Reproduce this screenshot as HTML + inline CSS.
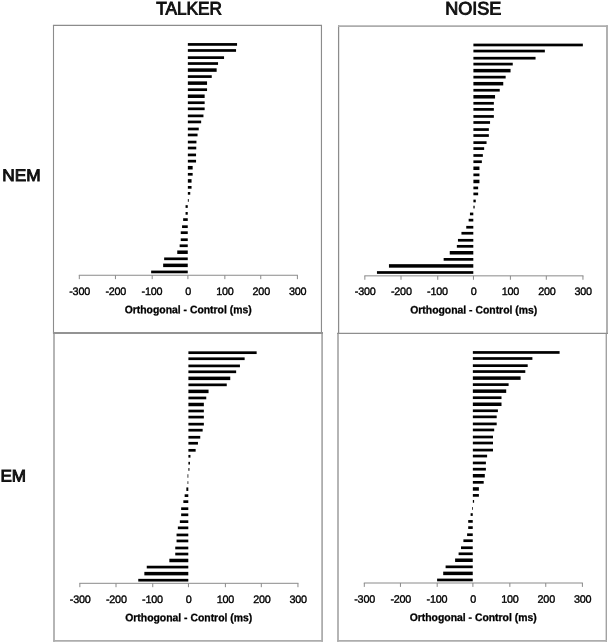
<!DOCTYPE html>
<html><head><meta charset="utf-8"><title>Figure</title>
<style>
html,body{margin:0;padding:0;background:#fff;}
svg{display:block;font-family:"Liberation Sans",sans-serif;}
.tk{font-size:10.8px;fill:#000;stroke:#000;stroke-width:0.35px;text-anchor:middle;letter-spacing:-0.22px;}
.ax{font-size:10.9px;font-weight:bold;fill:#000;stroke:#000;stroke-width:0.3px;text-anchor:middle;}
.hd{font-size:18.1px;fill:#111;stroke:#111;stroke-width:0.95px;text-anchor:middle;}
.rw{font-size:16.7px;fill:#111;stroke:#111;stroke-width:0.95px;}
</style></head><body>
<svg width="609" height="643" viewBox="0 0 609 643">
<rect width="609" height="643" fill="#fff"/>

<path d="M54 333V641.7" fill="none" stroke="#adadad" stroke-width="1.8"/>
<path d="M322.1 333V641.7" fill="none" stroke="#adadad" stroke-width="1.8"/>
<path d="M53.1 640.85H323" fill="none" stroke="#adadad" stroke-width="1.7"/>
<path d="M338 333V641.7" fill="none" stroke="#adadad" stroke-width="1.8"/>
<path d="M606.3 333V641.7" fill="none" stroke="#a2a2a2" stroke-width="1.4"/>
<path d="M337.1 640.85H607" fill="none" stroke="#adadad" stroke-width="1.7"/>
<path d="M53.5 24.9V333" fill="none" stroke="#8c8c8c" stroke-width="1.1"/>
<path d="M52.95 25.4H322" fill="none" stroke="#8c8c8c" stroke-width="1.1"/>
<path d="M321.45 24.9V333" fill="none" stroke="#8c8c8c" stroke-width="1.15"/>
<path d="M338.6 25.2V333.4" fill="none" stroke="#8c8c8c" stroke-width="1.25"/>
<path d="M338 26.1H607.9" fill="none" stroke="#adadad" stroke-width="1.9"/>
<path d="M607 25.2V334" fill="none" stroke="#adadad" stroke-width="1.9"/>
<path d="M52.95 333.05H323" fill="none" stroke="#939393" stroke-width="1.9"/>
<path d="M337.1 333.4H607.9" fill="none" stroke="#8e8e8e" stroke-width="1.3"/>
<text class="hd" transform="translate(189.0,14.5) rotate(0.03)" textLength="65.7" lengthAdjust="spacingAndGlyphs">TALKER</text>
<text class="hd" transform="translate(473.3,14.5) rotate(0.03)" textLength="56.1" lengthAdjust="spacingAndGlyphs">NOISE</text>
<text class="rw" transform="translate(2.35,181.0) rotate(0.03)" textLength="38.4" lengthAdjust="spacingAndGlyphs">NEM</text>
<text class="rw" transform="translate(0.4,481.4) rotate(0.03)" textLength="25.6" lengthAdjust="spacingAndGlyphs">EM</text>
<g fill="#000">
<rect x="187.85" y="43.07" width="49.20" height="2.7"/>
<rect x="187.85" y="49.13" width="48.20" height="2.7"/>
<rect x="187.85" y="56.28" width="36.20" height="2.7"/>
<rect x="187.85" y="62.18" width="30.20" height="2.7"/>
<rect x="187.85" y="68.33" width="28.80" height="3.5"/>
<rect x="187.85" y="75.23" width="23.90" height="2.7"/>
<rect x="187.85" y="81.38" width="19.20" height="3.5"/>
<rect x="187.85" y="88.33" width="19.20" height="2.7"/>
<rect x="187.85" y="94.48" width="16.80" height="3.5"/>
<rect x="187.85" y="101.38" width="16.80" height="2.7"/>
<rect x="187.85" y="107.48" width="16.80" height="2.7"/>
<rect x="187.85" y="114.53" width="15.60" height="2.7"/>
<rect x="187.85" y="120.58" width="13.30" height="2.7"/>
<rect x="187.85" y="127.63" width="10.90" height="2.7"/>
<rect x="187.85" y="133.63" width="9.70" height="2.7"/>
<rect x="187.85" y="140.70" width="8.60" height="2.7"/>
<rect x="187.85" y="146.67" width="8.40" height="2.7"/>
<rect x="187.85" y="153.58" width="8.20" height="2.7"/>
<rect x="187.85" y="159.81" width="8.20" height="2.7"/>
<rect x="187.85" y="165.96" width="4.80" height="3.5"/>
<rect x="187.85" y="172.96" width="4.80" height="2.7"/>
<rect x="187.85" y="179.16" width="3.70" height="3.5"/>
<rect x="187.85" y="186.01" width="3.70" height="2.7"/>
<rect x="187.85" y="192.01" width="2.40" height="2.7"/>
<rect x="187.85" y="199.06" width="0.90" height="2.7"/>
<rect x="185.55" y="205.18" width="2.20" height="2.7"/>
<rect x="185.55" y="212.03" width="2.20" height="2.7"/>
<rect x="183.15" y="218.23" width="4.60" height="2.7"/>
<rect x="182.05" y="225.33" width="5.70" height="2.7"/>
<rect x="180.75" y="231.33" width="7.00" height="2.7"/>
<rect x="180.75" y="238.36" width="7.00" height="2.7"/>
<rect x="179.65" y="244.41" width="8.10" height="2.7"/>
<rect x="177.25" y="250.46" width="10.50" height="3.5"/>
<rect x="164.15" y="257.46" width="23.60" height="2.7"/>
<rect x="163.15" y="263.61" width="24.60" height="3.5"/>
<rect x="151.15" y="270.58" width="36.60" height="2.7"/>
</g>
<path d="M78.80 275.25H297.90M79.30 275.25v3.9M115.45 275.25v3.9M152.20 275.25v3.9M187.90 275.25v3.9M224.85 275.25v3.9M260.75 275.25v3.9M297.40 275.25v3.9" stroke="#8a8a8a" stroke-width="1" fill="none"/>
<text class="tk" transform="translate(79.60,295.05) rotate(0.03)">-300</text>
<text class="tk" transform="translate(115.75,295.05) rotate(0.03)">-200</text>
<text class="tk" transform="translate(151.90,295.05) rotate(0.03)">-100</text>
<text class="tk" transform="translate(188.20,295.05) rotate(0.03)">0</text>
<text class="tk" transform="translate(224.85,295.05) rotate(0.03)">100</text>
<text class="tk" transform="translate(261.25,295.05) rotate(0.03)">200</text>
<text class="tk" transform="translate(297.55,295.05) rotate(0.03)">300</text>
<text class="ax" transform="translate(188.15,313.25) rotate(0.03)" textLength="127" lengthAdjust="spacingAndGlyphs">Orthogonal - Control (ms)</text>
<g fill="#000">
<rect x="473.40" y="43.63" width="109.45" height="2.7"/>
<rect x="473.40" y="49.69" width="71.45" height="2.7"/>
<rect x="473.40" y="56.84" width="62.15" height="2.7"/>
<rect x="473.40" y="62.74" width="39.35" height="2.7"/>
<rect x="473.40" y="68.89" width="37.15" height="3.5"/>
<rect x="473.40" y="75.79" width="32.25" height="2.7"/>
<rect x="473.40" y="81.94" width="29.85" height="3.5"/>
<rect x="473.40" y="88.89" width="26.35" height="2.7"/>
<rect x="473.40" y="95.04" width="21.65" height="3.5"/>
<rect x="473.40" y="101.94" width="20.45" height="2.7"/>
<rect x="473.40" y="108.04" width="20.45" height="2.7"/>
<rect x="473.40" y="115.09" width="20.45" height="2.7"/>
<rect x="473.40" y="121.14" width="16.65" height="2.7"/>
<rect x="473.40" y="128.19" width="15.45" height="2.7"/>
<rect x="473.40" y="134.19" width="15.45" height="2.7"/>
<rect x="473.40" y="141.26" width="13.15" height="2.7"/>
<rect x="473.40" y="147.23" width="10.75" height="2.7"/>
<rect x="473.40" y="154.14" width="9.45" height="2.7"/>
<rect x="473.40" y="160.37" width="8.45" height="2.7"/>
<rect x="473.40" y="166.52" width="6.05" height="3.5"/>
<rect x="473.40" y="173.52" width="6.05" height="2.7"/>
<rect x="473.40" y="179.72" width="6.05" height="3.5"/>
<rect x="473.40" y="186.57" width="4.75" height="2.7"/>
<rect x="473.40" y="192.57" width="4.75" height="2.7"/>
<rect x="473.40" y="199.62" width="2.35" height="2.7"/>
<rect x="473.40" y="205.74" width="1.25" height="2.7"/>
<rect x="469.95" y="212.59" width="3.35" height="2.7"/>
<rect x="468.65" y="218.79" width="4.65" height="2.7"/>
<rect x="466.25" y="225.89" width="7.05" height="2.7"/>
<rect x="461.45" y="231.89" width="11.85" height="2.7"/>
<rect x="457.95" y="238.92" width="15.35" height="2.7"/>
<rect x="456.85" y="244.97" width="16.45" height="2.7"/>
<rect x="449.75" y="251.02" width="23.55" height="3.5"/>
<rect x="443.65" y="258.02" width="29.65" height="2.7"/>
<rect x="388.95" y="264.17" width="84.35" height="3.5"/>
<rect x="376.95" y="271.14" width="96.35" height="2.7"/>
</g>
<path d="M364.35 275.85H583.45M364.85 275.85v3.9M401.00 275.85v3.9M437.75 275.85v3.9M473.45 275.85v3.9M510.40 275.85v3.9M546.30 275.85v3.9M582.95 275.85v3.9" stroke="#8a8a8a" stroke-width="1" fill="none"/>
<text class="tk" transform="translate(365.15,295.10) rotate(0.03)">-300</text>
<text class="tk" transform="translate(401.30,295.10) rotate(0.03)">-200</text>
<text class="tk" transform="translate(437.45,295.10) rotate(0.03)">-100</text>
<text class="tk" transform="translate(473.75,295.10) rotate(0.03)">0</text>
<text class="tk" transform="translate(510.40,295.10) rotate(0.03)">100</text>
<text class="tk" transform="translate(546.80,295.10) rotate(0.03)">200</text>
<text class="tk" transform="translate(583.10,295.10) rotate(0.03)">300</text>
<text class="ax" transform="translate(473.70,313.60) rotate(0.03)" textLength="127" lengthAdjust="spacingAndGlyphs">Orthogonal - Control (ms)</text>
<g fill="#000">
<rect x="188.40" y="351.34" width="68.25" height="2.7"/>
<rect x="188.40" y="357.40" width="56.25" height="2.7"/>
<rect x="188.40" y="364.55" width="51.55" height="2.7"/>
<rect x="188.40" y="370.45" width="47.75" height="2.7"/>
<rect x="188.40" y="376.60" width="41.85" height="3.5"/>
<rect x="188.40" y="383.50" width="38.35" height="2.7"/>
<rect x="188.40" y="389.65" width="20.15" height="3.5"/>
<rect x="188.40" y="396.60" width="17.85" height="2.7"/>
<rect x="188.40" y="402.75" width="15.45" height="3.5"/>
<rect x="188.40" y="409.65" width="15.45" height="2.7"/>
<rect x="188.40" y="415.75" width="15.45" height="2.7"/>
<rect x="188.40" y="422.80" width="15.45" height="2.7"/>
<rect x="188.40" y="428.85" width="14.25" height="2.7"/>
<rect x="188.40" y="435.90" width="11.85" height="2.7"/>
<rect x="188.40" y="441.90" width="9.55" height="2.7"/>
<rect x="188.40" y="448.97" width="7.25" height="2.7"/>
<rect x="188.40" y="454.94" width="2.05" height="2.7"/>
<rect x="188.40" y="461.85" width="1.55" height="2.7"/>
<rect x="188.40" y="468.08" width="1.05" height="2.7"/>
<rect x="187.55" y="474.23" width="0.75" height="3.5"/>
<rect x="187.55" y="481.23" width="0.75" height="2.7"/>
<rect x="186.35" y="487.43" width="1.95" height="3.5"/>
<rect x="184.65" y="494.28" width="3.65" height="2.7"/>
<rect x="183.35" y="500.28" width="4.95" height="2.7"/>
<rect x="181.15" y="507.33" width="7.15" height="2.7"/>
<rect x="181.15" y="513.45" width="7.15" height="2.7"/>
<rect x="179.85" y="520.30" width="8.45" height="2.7"/>
<rect x="177.85" y="526.50" width="10.45" height="2.7"/>
<rect x="176.55" y="533.60" width="11.75" height="2.7"/>
<rect x="176.55" y="539.60" width="11.75" height="2.7"/>
<rect x="175.25" y="546.63" width="13.05" height="2.7"/>
<rect x="175.25" y="552.68" width="13.05" height="2.7"/>
<rect x="169.35" y="558.73" width="18.95" height="3.5"/>
<rect x="146.75" y="565.73" width="41.55" height="2.7"/>
<rect x="144.35" y="571.88" width="43.95" height="3.5"/>
<rect x="138.25" y="578.85" width="50.05" height="2.7"/>
</g>
<path d="M79.35 583.30H298.45M79.85 583.30v3.9M116.00 583.30v3.9M152.75 583.30v3.9M188.45 583.30v3.9M225.40 583.30v3.9M261.30 583.30v3.9M297.95 583.30v3.9" stroke="#8a8a8a" stroke-width="1" fill="none"/>
<text class="tk" transform="translate(80.15,602.90) rotate(0.03)">-300</text>
<text class="tk" transform="translate(116.30,602.90) rotate(0.03)">-200</text>
<text class="tk" transform="translate(152.45,602.90) rotate(0.03)">-100</text>
<text class="tk" transform="translate(188.75,602.90) rotate(0.03)">0</text>
<text class="tk" transform="translate(225.40,602.90) rotate(0.03)">100</text>
<text class="tk" transform="translate(261.80,602.90) rotate(0.03)">200</text>
<text class="tk" transform="translate(298.10,602.90) rotate(0.03)">300</text>
<text class="ax" transform="translate(188.70,621.30) rotate(0.03)" textLength="127" lengthAdjust="spacingAndGlyphs">Orthogonal - Control (ms)</text>
<g fill="#000">
<rect x="472.85" y="351.10" width="86.75" height="2.7"/>
<rect x="472.85" y="357.16" width="59.55" height="2.7"/>
<rect x="472.85" y="364.31" width="54.85" height="2.7"/>
<rect x="472.85" y="370.21" width="52.45" height="2.7"/>
<rect x="472.85" y="376.36" width="47.75" height="3.5"/>
<rect x="472.85" y="383.26" width="35.75" height="2.7"/>
<rect x="472.85" y="389.41" width="33.35" height="3.5"/>
<rect x="472.85" y="396.36" width="28.65" height="2.7"/>
<rect x="472.85" y="402.51" width="28.65" height="3.5"/>
<rect x="472.85" y="409.41" width="25.05" height="2.7"/>
<rect x="472.85" y="415.51" width="23.85" height="2.7"/>
<rect x="472.85" y="422.56" width="23.85" height="2.7"/>
<rect x="472.85" y="428.61" width="21.35" height="2.7"/>
<rect x="472.85" y="435.66" width="20.15" height="2.7"/>
<rect x="472.85" y="441.66" width="20.15" height="2.7"/>
<rect x="472.85" y="448.73" width="20.15" height="2.7"/>
<rect x="472.85" y="454.70" width="14.25" height="2.7"/>
<rect x="472.85" y="461.61" width="13.05" height="2.7"/>
<rect x="472.85" y="467.84" width="13.05" height="2.7"/>
<rect x="472.85" y="473.99" width="11.95" height="3.5"/>
<rect x="472.85" y="480.99" width="10.85" height="2.7"/>
<rect x="472.85" y="487.19" width="6.05" height="3.5"/>
<rect x="472.85" y="494.04" width="6.05" height="2.7"/>
<rect x="472.85" y="500.04" width="1.25" height="2.7"/>
<rect x="472.00" y="507.09" width="0.75" height="2.7"/>
<rect x="470.60" y="513.21" width="2.15" height="2.7"/>
<rect x="468.20" y="520.06" width="4.55" height="2.7"/>
<rect x="468.20" y="526.26" width="4.55" height="2.7"/>
<rect x="467.10" y="533.36" width="5.65" height="2.7"/>
<rect x="463.40" y="539.36" width="9.35" height="2.7"/>
<rect x="461.00" y="546.39" width="11.75" height="2.7"/>
<rect x="458.60" y="552.44" width="14.15" height="2.7"/>
<rect x="455.10" y="558.49" width="17.65" height="3.5"/>
<rect x="445.60" y="565.49" width="27.15" height="2.7"/>
<rect x="443.20" y="571.64" width="29.55" height="3.5"/>
<rect x="437.10" y="578.61" width="35.65" height="2.7"/>
</g>
<path d="M363.80 583.00H582.90M364.30 583.00v3.9M400.45 583.00v3.9M437.20 583.00v3.9M472.90 583.00v3.9M509.85 583.00v3.9M545.75 583.00v3.9M582.40 583.00v3.9" stroke="#8a8a8a" stroke-width="1" fill="none"/>
<text class="tk" transform="translate(364.60,602.70) rotate(0.03)">-300</text>
<text class="tk" transform="translate(400.75,602.70) rotate(0.03)">-200</text>
<text class="tk" transform="translate(436.90,602.70) rotate(0.03)">-100</text>
<text class="tk" transform="translate(473.20,602.70) rotate(0.03)">0</text>
<text class="tk" transform="translate(509.85,602.70) rotate(0.03)">100</text>
<text class="tk" transform="translate(546.25,602.70) rotate(0.03)">200</text>
<text class="tk" transform="translate(582.55,602.70) rotate(0.03)">300</text>
<text class="ax" transform="translate(473.15,621.00) rotate(0.03)" textLength="127" lengthAdjust="spacingAndGlyphs">Orthogonal - Control (ms)</text>
</svg></body></html>
